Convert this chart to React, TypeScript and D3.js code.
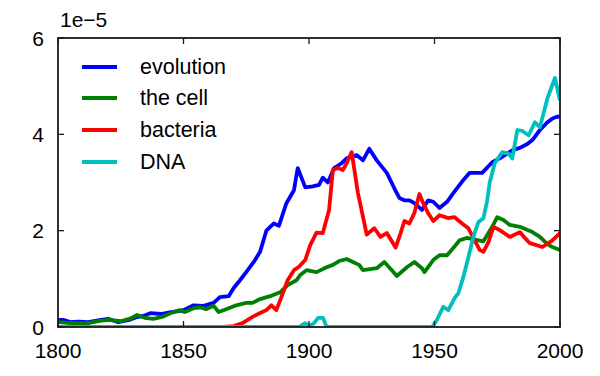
import React from "react";
import * as d3 from "d3";

type Pt = [number, number];

const xTicks = [1800, 1850, 1900, 1950, 2000];
const yTicks = [0, 2, 4, 6];
const offsetLabel = "1e\u22125";

const seriesNames = ["evolution", "the cell", "bacteria", "DNA"];
const seriesColors = ["#0000ff", "#008000", "#ff0000", "#00bfbf"];

const evolution: Pt[] = [
  [1800, 0.15], [1802, 0.15], [1805, 0.1], [1808, 0.11], [1812, 0.1], [1816, 0.14],
  [1820, 0.17], [1824, 0.1], [1828, 0.14], [1831, 0.2], [1834, 0.23], [1837, 0.29],
  [1841, 0.27], [1845, 0.31], [1848, 0.33], [1850, 0.35], [1854, 0.45], [1858, 0.44],
  [1862, 0.5], [1864.5, 0.62], [1868, 0.64], [1870, 0.81], [1872.5, 0.97], [1875, 1.14],
  [1878, 1.35], [1880.5, 1.56], [1883, 2.0], [1886, 2.15], [1888, 2.1], [1891, 2.57],
  [1894, 2.84], [1895.5, 3.3], [1898.5, 2.9], [1901.5, 2.92], [1904, 2.95], [1905.5, 3.1],
  [1907.5, 3.0], [1910, 3.3], [1913, 3.4], [1915, 3.5], [1919, 3.57], [1921.5, 3.46],
  [1924, 3.7], [1927, 3.46], [1931, 3.2], [1934, 2.88], [1936, 2.68], [1938, 2.63],
  [1940, 2.63], [1942, 2.57], [1945, 2.43], [1947.5, 2.63], [1949.5, 2.6], [1952, 2.47],
  [1955, 2.6], [1957.5, 2.78], [1961, 3.02], [1964, 3.2], [1969, 3.2], [1973, 3.42],
  [1976, 3.5], [1981, 3.67], [1984, 3.72], [1987, 3.8], [1989, 3.88], [1992, 4.09],
  [1995, 4.25], [1997, 4.33], [1999, 4.37], [2000, 4.36],
];

const theCell: Pt[] = [
  [1800, 0.1], [1805, 0.08], [1812, 0.08], [1816, 0.12], [1820, 0.15], [1825, 0.12],
  [1829, 0.18], [1831.5, 0.25], [1834.5, 0.19], [1838, 0.17], [1841.5, 0.21], [1845, 0.29],
  [1848.5, 0.35], [1850.5, 0.31], [1854, 0.39], [1856.5, 0.41], [1859, 0.37], [1862, 0.44],
  [1864, 0.31], [1867, 0.37], [1871, 0.45], [1875, 0.5], [1877.5, 0.5], [1880.5, 0.58],
  [1884.5, 0.64], [1888.5, 0.72], [1891.5, 0.87], [1895, 0.97], [1896.5, 1.08], [1899, 1.18],
  [1903, 1.14], [1907, 1.24], [1909.5, 1.29], [1912, 1.37], [1915, 1.41], [1917.5, 1.35],
  [1920, 1.29], [1921.5, 1.18], [1927, 1.22], [1930, 1.35], [1933, 1.18], [1935, 1.06],
  [1939, 1.24], [1942, 1.35], [1945, 1.22], [1946, 1.14], [1949.5, 1.39], [1952, 1.49],
  [1955, 1.49], [1957.5, 1.64], [1960, 1.8], [1963, 1.85], [1965.5, 1.82], [1969.5, 1.78],
  [1973, 2.08], [1975, 2.28], [1977.5, 2.22], [1980, 2.12], [1984, 2.08], [1989, 1.97],
  [1992, 1.87], [1995, 1.72], [1997, 1.66], [2000, 1.6],
];

const bacteria: Pt[] = [
  [1800, 0], [1866, 0], [1870, 0.02], [1873.5, 0.08], [1877.5, 0.21], [1880.5, 0.29],
  [1883, 0.35], [1885, 0.45], [1887, 0.35], [1889, 0.62], [1891.5, 0.97], [1894, 1.18],
  [1896, 1.25], [1898.5, 1.39], [1900.5, 1.7], [1903, 1.96], [1905.5, 1.95], [1908, 2.43],
  [1909.5, 3.26], [1911.5, 3.3], [1913.5, 3.26], [1915, 3.4], [1917, 3.63], [1919.5, 2.78],
  [1923, 1.92], [1926, 2.05], [1928.5, 1.87], [1931, 1.95], [1934.5, 1.65], [1936.5, 1.95],
  [1938, 2.2], [1940, 2.15], [1942, 2.37], [1944, 2.76], [1945.5, 2.57], [1947.5, 2.36],
  [1949.5, 2.2], [1952, 2.32], [1955.5, 2.26], [1958, 2.28], [1961, 2.15], [1963.5, 2.05],
  [1966, 1.8], [1968, 1.6], [1969.5, 1.56], [1971.5, 1.76], [1973.5, 2.08], [1976, 2.01],
  [1980, 1.87], [1984, 1.97], [1986, 1.85], [1988, 1.74], [1993, 1.66], [1997, 1.8],
  [2000, 1.95],
];

const dna: Pt[] = [
  [1800, 0], [1896, 0], [1898.5, 0.08], [1900, 0.02], [1902, 0.08], [1903.6, 0.19],
  [1905.6, 0.19], [1907, 0], [1949, 0], [1951, 0.15], [1953.5, 0.42], [1955.5, 0.35],
  [1958, 0.6], [1959.5, 0.7], [1961.5, 1.04], [1963.5, 1.45], [1965.5, 1.87], [1967.5, 2.18],
  [1969.5, 2.26], [1971, 2.63], [1972, 3.0], [1974, 3.4], [1977, 3.63], [1979.5, 3.6],
  [1981, 3.5], [1983, 4.09], [1985, 4.07], [1987.5, 3.98], [1990, 4.25], [1992, 4.15],
  [1995, 4.75], [1998, 5.17], [2000, 4.7],
];

const allSeries = [evolution, theCell, bacteria, dna];

const W = 600;
const H = 376;
const M = { left: 58, right: 560, top: 38, bottom: 327 };
const FONT = "'Liberation Sans', Arial, Helvetica, sans-serif";

export default function App() {
  const x = d3.scaleLinear().domain([1800, 2000]).range([M.left, M.right]);
  const y = d3.scaleLinear().domain([0, 6]).range([M.bottom, M.top]);
  const line = d3
    .line<Pt>()
    .x((d) => x(d[0]))
    .y((d) => y(d[1]));
  const tickLen = 6;
  const legendY = [67, 98, 130, 162];

  return (
    <svg
      width={W}
      height={H}
      style={{ position: "absolute", left: 0, top: 0, background: "#fff" }}
      fontFamily={FONT}
    >
      <defs>
        <clipPath id="plotClip">
          <rect x={M.left} y={M.top} width={M.right - M.left} height={M.bottom - M.top} />
        </clipPath>
      </defs>
      <rect x={0} y={0} width={W} height={H} fill="#fff" />
      <g clipPath="url(#plotClip)">
        {allSeries.map((s, i) => (
          <path
            key={i}
            d={line(s) || ""}
            fill="none"
            stroke={seriesColors[i]}
            strokeWidth={3.8}
            strokeLinejoin="round"
            strokeLinecap="butt"
          />
        ))}
      </g>
      <g stroke="#1a1a1a" strokeWidth={1.3}>
        {xTicks.map((t) => (
          <g key={"xt" + t}>
            <line x1={x(t)} x2={x(t)} y1={M.bottom} y2={M.bottom - tickLen} />
            <line x1={x(t)} x2={x(t)} y1={M.top} y2={M.top + tickLen} />
          </g>
        ))}
        {yTicks.map((t) => (
          <g key={"yt" + t}>
            <line x1={M.left} x2={M.left + tickLen} y1={y(t)} y2={y(t)} />
            <line x1={M.right} x2={M.right - tickLen} y1={y(t)} y2={y(t)} />
          </g>
        ))}
      </g>
      <rect
        x={M.left}
        y={M.top}
        width={M.right - M.left}
        height={M.bottom - M.top}
        fill="none"
        stroke="#1a1a1a"
        strokeWidth={1.8}
      />
      <g fontSize={21} fill="#000">
        {xTicks.map((t) => (
          <text key={"xl" + t} x={x(t)} y={358} textAnchor="middle">
            {t}
          </text>
        ))}
        {yTicks.map((t) => (
          <text key={"yl" + t} x={44} y={y(t)} textAnchor="end" dominantBaseline="central">
            {t}
          </text>
        ))}
        <text x={60} y={27}>
          {offsetLabel}
        </text>
      </g>
      <g>
        {seriesNames.map((n, i) => (
          <g key={n}>
            <line
              x1={82}
              x2={117}
              y1={legendY[i]}
              y2={legendY[i]}
              stroke={seriesColors[i]}
              strokeWidth={3.8}
            />
            <text
              x={140}
              y={legendY[i]}
              fontSize={21.5}
              fill="#000"
              dominantBaseline="central"
            >
              {n}
            </text>
          </g>
        ))}
      </g>
    </svg>
  );
}
